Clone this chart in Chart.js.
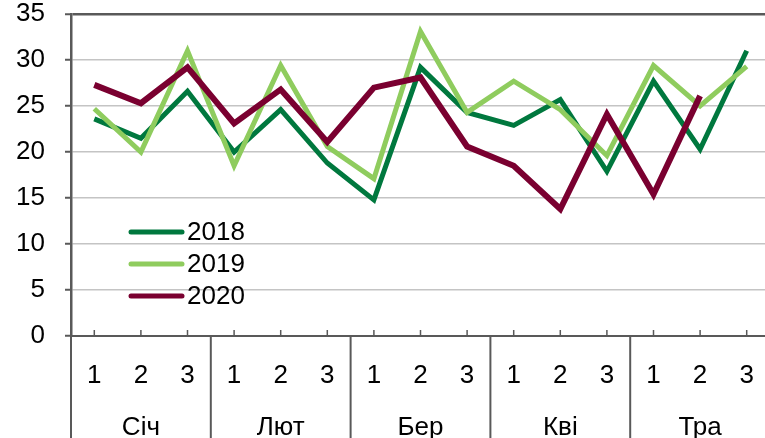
<!DOCTYPE html>
<html>
<head>
<meta charset="utf-8">
<script src="https://cdn.jsdelivr.net/npm/chart.js@4"></script>
<style>
  html, body { margin: 0; padding: 0; background: #fff; overflow: hidden; }
  #wrap { width: 770px; height: 438px; }
</style>
</head>
<body>
<div id="wrap"><canvas id="chart" width="770" height="438"></canvas></div>
<script>
const decades = ['1', '2', '3', '1', '2', '3', '1', '2', '3', '1', '2', '3', '1', '2', '3'];
const months = ['Січ', 'Лют', 'Бер', 'Кві', 'Тра'];
const yTicks = [0, 5, 10, 15, 20, 25, 30, 35];

const series2018 = [23.6, 21.5, 26.6, 20.0, 24.6, 18.8, 14.8, 29.2, 24.3, 22.9, 25.7, 17.9, 27.7, 20.3, 31.0];
const series2019 = [24.7, 20.0, 31.0, 18.5, 29.4, 20.6, 17.1, 33.1, 24.3, 27.7, 24.6, 19.6, 29.4, 25.0, 29.3];
const series2020 = [27.3, 25.3, 29.2, 23.1, 26.8, 21.1, 27.0, 28.1, 20.6, 18.5, 13.8, 24.1, 15.4, 26.1, null];

const axisColor = '#595959';
const font = "'Liberation Sans', Arial, sans-serif";
const fontSize = 26;

// legend, month row and the little inner ticks are drawn by hand
const extras = {
    id: 'extras',
    afterDraw(chart) {
        const ctx = chart.ctx;
        const area = chart.chartArea;
        const x = chart.scales.x;
        const step = x.getPixelForValue(1) - x.getPixelForValue(0);
        ctx.save();

        ctx.strokeStyle = axisColor;
        ctx.lineWidth = 1.5;
        decades.forEach((d, i) => {
            const px = x.getPixelForValue(i);
            ctx.beginPath();
            ctx.moveTo(px, area.bottom);
            ctx.lineTo(px, area.bottom - 6);
            ctx.stroke();
        });

        ctx.lineWidth = 2;
        ctx.font = fontSize + 'px ' + font;
        ctx.fillStyle = '#000';
        ctx.textAlign = 'center';
        ctx.textBaseline = 'middle';
        months.forEach((m, i) => {
            const sep = x.getPixelForValue(i * 3) - step / 2;
            ctx.beginPath();
            ctx.moveTo(sep, area.bottom);
            ctx.lineTo(sep, chart.height);
            ctx.stroke();
            ctx.fillText(m, x.getPixelForValue(i * 3 + 1), 428);
        });

        const legendY = [232, 264, 296];
        ctx.textAlign = 'left';
        ctx.lineCap = 'round';
        chart.data.datasets.forEach((ds, i) => {
            ctx.strokeStyle = ds.borderColor;
            ctx.lineWidth = 5;
            ctx.beginPath();
            ctx.moveTo(131, legendY[i]);
            ctx.lineTo(182, legendY[i]);
            ctx.stroke();
            ctx.fillText(ds.label, 187, legendY[i] + 1);
        });
        ctx.restore();
    }
};

new Chart(document.getElementById('chart'), {
    type: 'line',
    data: {
        labels: decades,
        datasets: [
            { label: '2018', data: series2018, borderColor: '#00783e', borderWidth: 5, order: 2 },
            { label: '2019', data: series2019, borderColor: '#8fcc5e', borderWidth: 5, order: 1 },
            { label: '2020', data: series2020, borderColor: '#7a0030', borderWidth: 6, order: 0 }
        ]
    },
    options: {
        responsive: false,
        animation: false,
        layout: { padding: { top: 14, left: 0, right: 0, bottom: 0 } },
        elements: {
            point: { radius: 0 },
            line: { tension: 0, borderJoinStyle: 'miter' }
        },
        plugins: {
            legend: { display: false },
            tooltip: { enabled: false }
        },
        scales: {
            x: {
                offset: true,
                grid: { display: false },
                border: { color: axisColor, width: 2 },
                ticks: {
                    color: '#000',
                    padding: 16,
                    maxRotation: 0,
                    autoSkip: false,
                    font: { family: font, size: fontSize }
                },
                afterFit(scale) {
                    scale.height = 102;
                    scale.paddingLeft = 0;
                    scale.paddingRight = 0;
                }
            },
            y: {
                min: 0,
                max: 35,
                afterBuildTicks(scale) {
                    scale.ticks = yTicks.map(v => ({ value: v }));
                },
                grid: {
                    color: c => c.tick && c.tick.value === 35 ? axisColor : (c.tick && c.tick.value === 0 ? 'rgba(0,0,0,0)' : '#c4c4c4'),
                    lineWidth: c => c.tick && c.tick.value === 35 ? 2.5 : 1.5,
                    tickColor: axisColor,
                    tickLength: 6,
                    tickWidth: 2
                },
                border: { color: axisColor, width: 2.5 },
                ticks: {
                    color: '#000',
                    padding: 20,
                    font: { family: font, size: fontSize }
                },
                afterFit(scale) {
                    scale.width = 71;
                    scale.paddingTop = 0;
                    scale.paddingBottom = 0;
                }
            }
        }
    },
    plugins: [extras]
});
</script>
</body>
</html>
